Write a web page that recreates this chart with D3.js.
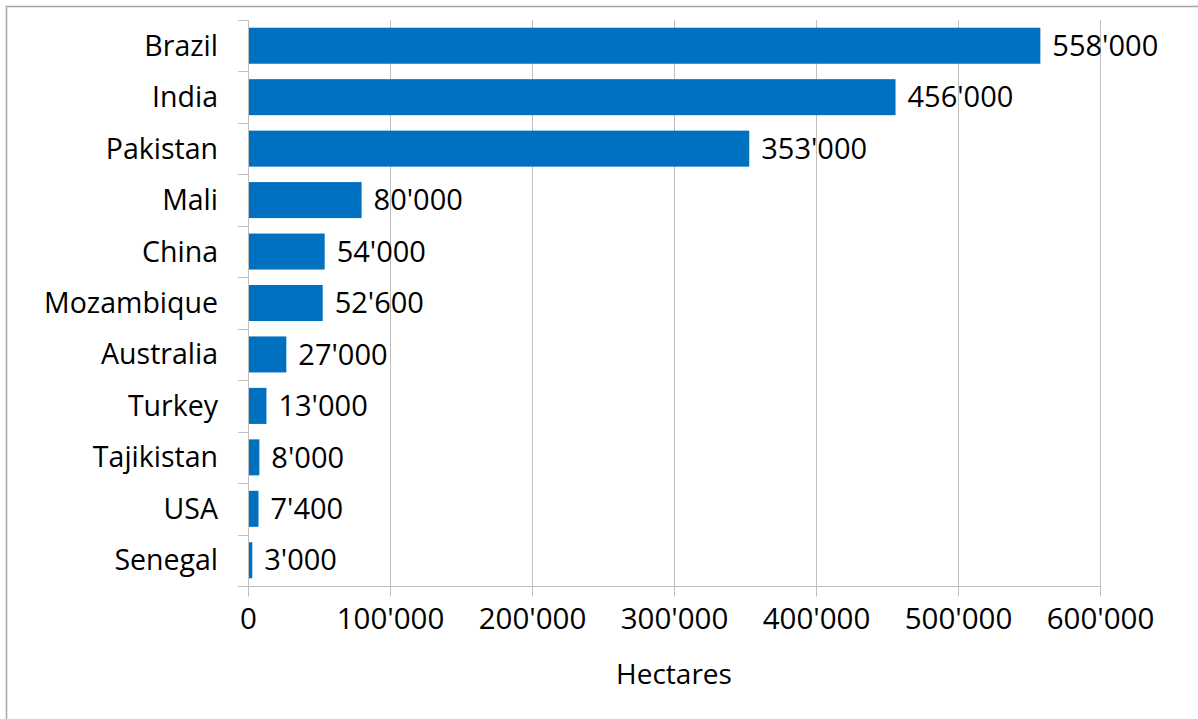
<!DOCTYPE html>
<html>
<head>
<meta charset="utf-8">
<script src="https://cdn.jsdelivr.net/npm/d3@7"></script>
<style>
  body { margin: 0; background: #fff; }
  text { font-family: "Open Sans", sans-serif; fill: #000; }
</style>
</head>
<body>
<div id="chart"></div>
<script>
var countries = ["Brazil", "India", "Pakistan", "Mali", "China", "Mozambique", "Australia", "Turkey", "Tajikistan", "USA", "Senegal"];
var hectares = [558000, 456000, 353000, 80000, 54000, 52600, 27000, 13000, 8000, 7400, 3000];
var xTicks = [0, 100000, 200000, 300000, 400000, 500000, 600000];

var W = 1198, H = 719;
var margin = {top: 20, left: 248, right: 98, bottom: 133};
var width = W - margin.left - margin.right,
    height = H - margin.top - margin.bottom;

var data = countries.map(function(c, i) { return {name: c, value: hectares[i]}; });

var fmt = function(d) { return d3.format(",")(d).replace(/,/g, "'"); };

var svg = d3.select("#chart").append("svg")
    .attr("width", W)
    .attr("height", H);

// outer frame
svg.append("rect")
    .attr("x", 6.5).attr("y", 6.5)
    .attr("width", W).attr("height", H)
    .style("fill", "none")
    .style("stroke", "#a6a6a6")
    .style("stroke-width", 1.5);

var g = svg.append("g")
    .attr("transform", "translate(" + margin.left + "," + margin.top + ")");

var x = d3.scaleLinear().domain([0, 600000]).range([0, width]);
var y = d3.scaleBand().domain(countries).range([0, height]).paddingInner(0.3).paddingOuter(0.15);

// gridlines
g.selectAll(".grid")
    .data(xTicks.slice(1))
  .enter().append("line")
    .attr("class", "grid")
    .attr("x1", function(d) { return Math.round(x(d)) + 0.5; })
    .attr("x2", function(d) { return Math.round(x(d)) + 0.5; })
    .attr("y1", 0)
    .attr("y2", height + 10)
    .style("stroke", "#bfbfbf")
    .style("stroke-width", 1);

// x axis
var xAxis = d3.axisBottom(x).tickValues(xTicks).tickFormat(fmt).tickSize(10).tickPadding(12);
var xg = g.append("g")
    .attr("transform", "translate(0," + (height + 0.5) + ")")
    .call(xAxis);
xg.select(".domain").attr("d", "M-10,0H" + width).style("stroke", "#bfbfbf");
xg.selectAll(".tick line").style("stroke", "#bfbfbf");
xg.selectAll(".tick text").style("font-size", "29.5px").style("font-family", "Open Sans");

// y axis with ticks at category boundaries
var bounds = d3.range(countries.length + 1).map(function(i) { return i * height / countries.length; });
g.append("line")
    .attr("x1", 0.5).attr("x2", 0.5)
    .attr("y1", 0).attr("y2", height + 10)
    .style("stroke", "#bfbfbf");
g.selectAll(".ytick")
    .data(bounds)
  .enter().append("line")
    .attr("class", "ytick")
    .attr("x1", -10).attr("x2", 0)
    .attr("y1", function(d) { return Math.round(d) + 0.5; })
    .attr("y2", function(d) { return Math.round(d) + 0.5; })
    .style("stroke", "#bfbfbf");

g.selectAll(".ylabel")
    .data(countries)
  .enter().append("text")
    .attr("class", "ylabel")
    .attr("x", -30)
    .attr("y", function(d) { return y(d) + y.bandwidth() / 2; })
    .attr("dy", "0.35em")
    .style("text-anchor", "end")
    .style("font-size", "28.5px")
    .text(function(d) { return d; });

// bars
g.selectAll(".bar")
    .data(data)
  .enter().append("rect")
    .attr("class", "bar")
    .attr("x", 1)
    .attr("y", function(d) { return y(d.name); })
    .attr("width", function(d) { return x(d.value) - 1; })
    .attr("height", y.bandwidth())
    .style("fill", "#0070c0");

// value labels
g.selectAll(".val")
    .data(data)
  .enter().append("text")
    .attr("class", "val")
    .attr("x", function(d) { return x(d.value) + 12; })
    .attr("y", function(d) { return y(d.name) + y.bandwidth() / 2; })
    .attr("dy", "0.35em")
    .style("font-size", "29px")
    .text(function(d) { return fmt(d.value); });

// axis title
g.append("text")
    .attr("x", width / 2)
    .attr("y", height + 98)
    .style("text-anchor", "middle")
    .style("font-size", "28px")
    .text("Hectares");
</script>
</body>
</html>
